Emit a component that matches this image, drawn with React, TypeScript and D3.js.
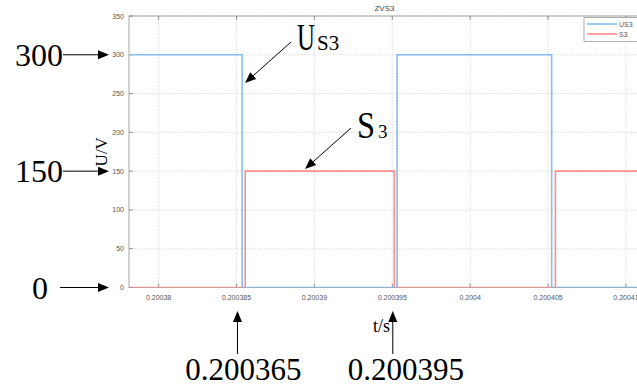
import React from "react";
import * as d3 from "d3";

// Switching waveforms of the ZVS3 leg
const timeTicks = [0.20038, 0.200385, 0.20039, 0.200395, 0.2004, 0.200405, 0.20041];
const timeTickLabels = ["0.20038", "0.200385", "0.20039", "0.200395", "0.2004", "0.200405", "0.20041"];
const voltTicks = [0, 50, 100, 150, 200, 250, 300, 350];

const us3Time = [0.2003781, 0.20038536, 0.20038536, 0.20039531, 0.20039531, 0.20040523, 0.20040523, 0.2004109];
const us3Volt = [300, 300, 0, 0, 300, 300, 0, 0];
const s3Time = [0.2003781, 0.20038556, 0.20038556, 0.20039513, 0.20039513, 0.20040547, 0.20040547, 0.2004109];
const s3Volt = [0, 0, 150, 150, 0, 0, 150, 150];

// Annotated values
const markedVolts = [300, 150, 0];
const markedVoltLabels = ["300", "150", "0"];
const markedTimes = [0.200385, 0.200395];
const markedTimeLabels = ["0.200365", "0.200395"];

const W = 637;
const H = 387;
const left = 129;
const right = 640;
const top = 16;
const bottom = 287.5;

const BLUE = "#86bdea";
const RED = "#ff8c8c";
const SERIF = "'Liberation Serif', 'Times New Roman', serif";
const SANS = "'Liberation Sans', Arial, sans-serif";

function Arrow({ x1, y1, x2, y2 }: { x1: number; y1: number; x2: number; y2: number }) {
  const ang = Math.atan2(y2 - y1, x2 - x1);
  const len = 11;
  const half = 4.5;
  const bx = x2 - len * Math.cos(ang);
  const by = y2 - len * Math.sin(ang);
  const px = -Math.sin(ang) * half;
  const py = Math.cos(ang) * half;
  return (
    <g>
      <line x1={x1} y1={y1} x2={bx} y2={by} stroke="#000" strokeWidth={1} />
      <path d={`M${x2},${y2}L${bx + px},${by + py}L${bx - px},${by - py}Z`} fill="#000" />
    </g>
  );
}

export default function App() {
  const x = d3.scaleLinear().domain([0.2003781, 0.2004109]).range([left, right]);
  const y = d3.scaleLinear().domain([0, 350]).range([bottom, top]);

  const line = d3
    .line<[number, number]>()
    .x((d) => x(d[0]))
    .y((d) => y(d[1]))
    .curve(d3.curveLinear);

  const us3 = line(us3Time.map((t, i) => [t, us3Volt[i]]));
  const s3 = line(s3Time.map((t, i) => [t, s3Volt[i]]));

  return (
    <svg
      width={W}
      height={H}
      style={{ position: "fixed", left: 0, top: 0, background: "#fff" }}
    >
      <defs>
        <clipPath id="plotClip">
          <rect x={left} y={top} width={right - left} height={bottom - top} />
        </clipPath>
      </defs>

      {/* grid */}
      <g stroke="#d4d4d4" strokeWidth={0.8} strokeDasharray="1.5,1.5">
        {timeTicks.map((t) => (
          <line key={"gx" + t} x1={x(t)} x2={x(t)} y1={top} y2={bottom} />
        ))}
        {voltTicks.map((v) => (
          <line key={"gy" + v} x1={left} x2={right} y1={y(v)} y2={y(v)} />
        ))}
      </g>

      {/* axes box */}
      <rect x={left} y={top} width={right - left} height={bottom - top} fill="none" stroke="#a6a6a6" strokeWidth={1} />

      {/* ticks */}
      <g stroke="#777" strokeWidth={0.8}>
        {timeTicks.map((t) => (
          <g key={"tx" + t}>
            <line x1={x(t)} x2={x(t)} y1={bottom} y2={bottom - 4} />
            <line x1={x(t)} x2={x(t)} y1={top} y2={top + 4} />
          </g>
        ))}
        {voltTicks.map((v) => (
          <line key={"ty" + v} x1={left} x2={left + 4} y1={y(v)} y2={y(v)} />
        ))}
      </g>

      {/* tick labels */}
      <g fontFamily={SANS} fontSize={7} fill="#555">
        {timeTicks.map((t, i) => (
          <text key={"lx" + t} x={x(t)} y={bottom + 12} textAnchor="middle">
            {timeTickLabels[i]}
          </text>
        ))}
        {voltTicks.map((v) => (
          <text key={"ly" + v} x={left - 5} y={y(v) + 2.5} textAnchor="end">
            {v}
          </text>
        ))}
      </g>

      {/* series */}
      <g clipPath="url(#plotClip)" fill="none" strokeWidth={1.6}>
        <path d={s3 ?? ""} stroke={RED} />
        <path d={us3 ?? ""} stroke={BLUE} />
      </g>

      {/* title */}
      <text x={(left + right) / 2} y={11} textAnchor="middle" fontFamily={SANS} fontSize={8} fill="#444">
        ZVS3
      </text>

      {/* legend */}
      <g>
        <rect x={584} y={17.5} width={54} height={24} fill="#fff" stroke="#999" strokeWidth={0.8} />
        <line x1={587} x2={617} y1={24} y2={24} stroke={BLUE} strokeWidth={1.6} />
        <line x1={587} x2={617} y1={34} y2={34} stroke={RED} strokeWidth={1.6} />
        <text x={619} y={26.5} fontFamily={SANS} fontSize={7} fill="#555">US3</text>
        <text x={619} y={36.5} fontFamily={SANS} fontSize={7} fill="#555">S3</text>
      </g>

      {/* axis titles */}
      <text
        transform={`translate(107,${y(175)}) rotate(-90)`}
        textAnchor="middle"
        fontFamily={SERIF}
        fontSize={17}
        fill="#000"
      >
        U/V
      </text>
      <text x={373} y={332} fontFamily={SERIF} fontSize={18} fill="#000">t/s</text>

      {/* value annotations on the voltage axis */}
      {markedVolts.map((v, i) => {
        const yy = y(v);
        const textRight = v === 0 ? 48 : 63;
        const arrowStart = v === 0 ? 60 : 63;
        return (
          <g key={"mv" + v}>
            <text
              x={textRight}
              y={yy + 11}
              textAnchor="end"
              fontFamily={SERIF}
              fontSize={32}
              fill="#000"
            >
              {markedVoltLabels[i]}
            </text>
            <Arrow x1={arrowStart} y1={yy} x2={109} y2={yy} />
          </g>
        );
      })}

      {/* switching instants */}
      {markedTimes.map((t, i) => {
        const xx = x(t) + (i === 0 ? 1 : 0.5);
        return (
          <g key={"mt" + t}>
            <Arrow x1={xx} y1={354} x2={xx} y2={311} />
            <text
              x={xx + (i === 0 ? 6 : 13)}
              y={380}
              textAnchor="middle"
              fontFamily={SERIF}
              fontSize={31}
              fill="#000"
            >
              {markedTimeLabels[i]}
            </text>
          </g>
        );
      })}

      {/* signal labels */}
      <text x={297} y={50} fontFamily={SERIF} fontSize={37} fill="#000" textLength={18} lengthAdjust="spacingAndGlyphs">U</text>
      <text x={317} y={50} fontFamily={SERIF} fontSize={21} fill="#000">S3</text>
      <Arrow x1={291} y1={42} x2={245} y2={83} />

      <text x={357} y={138} fontFamily={SERIF} fontSize={37} fill="#000" textLength={18} lengthAdjust="spacingAndGlyphs">S</text>
      <text x={378} y={138} fontFamily={SERIF} fontSize={19} fill="#000">3</text>
      <Arrow x1={351} y1={128} x2={305} y2={169} />
    </svg>
  );
}
